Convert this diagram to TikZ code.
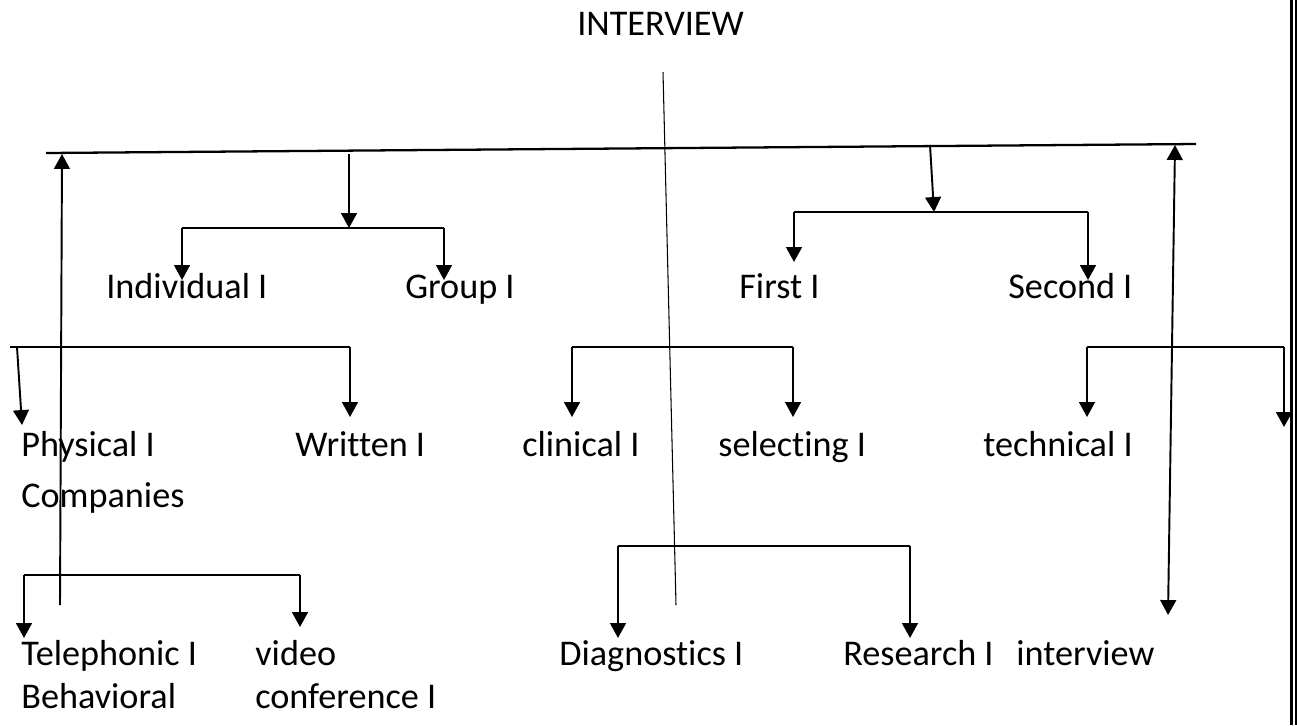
\documentclass[tikz,border=0pt]{standalone}
\usepackage{fontspec}
\setmainfont{Carlito}[Ligatures=CommonOff]
\usetikzlibrary{arrows.meta}

\begin{document}
\begin{tikzpicture}[x=0.02cm,y=-0.02cm,
  txt/.style={anchor=base west,inner sep=0pt,font=\fontsize{20.6}{24}\selectfont},
  arr/.style={-{Triangle[width=9pt,length=8.5pt]},line width=1.1pt},
  dblarr/.style={{Triangle[width=9pt,length=8.5pt]}-{Triangle[width=9pt,length=8.5pt]},line width=1.1pt},
  bar/.style={line width=1.1pt}]
\useasboundingbox (0,0) rectangle (1297,725);
% Title
\node[txt] (title) at (577,35) {INTERVIEW};
% First row of labels
\node[txt] (indiv) at (106,298) {Individual I};
\node[txt] (group) at (405,298) {Group I};
\node[txt] (first) at (739,298) {First I};
\node[txt] (second) at (1008,298) {Second I};
% Second row of labels
\node[txt] (physical) at (21,456) {Physical I};
\node[txt] (companies) at (21,507) {Companies};
\node[txt] (written) at (295,456) {Written I};
\node[txt] (clinical) at (522,456) {clinical I};
\node[txt] (selecting) at (718,456) {selecting I};
\node[txt] (technical) at (983,456) {technical I};
% Third row of labels
\node[txt] (telephonic) at (21,665) {Telephonic I};
\node[txt] (behavioral) at (21,708) {Behavioral};
\node[txt] (video) at (255,665) {video};
\node[txt] (conference) at (255,708) {conference I};
\node[txt] (diagnostics) at (559,665) {Diagnostics I};
\node[txt] (research) at (843,665) {Research I};
\node[txt] (interview) at (1016,665) {interview};
% Main bar and long lines
\coordinate (barL) at (46,153);
\coordinate (barR) at (1196,144);
\coordinate (spineT) at (663,72);
\coordinate (spineB) at (676,605);
\coordinate (riseL) at (60,605);
\coordinate (riseLtop) at (62,154);
\coordinate (riseR) at (1168,615);
\coordinate (riseRtop) at (1175,145);
\draw[line width=1.3pt] (barL) -- (barR);
\draw[line width=0.6pt] (spineT) -- (spineB);
\draw[arr] (riseL) -- (riseLtop);
\draw[dblarr] (riseR) -- (riseRtop);
% Bracket for individual / group
\coordinate (feedA) at (349,154);
\coordinate (brA) at (349,228);
\coordinate (brAl) at (182,228);
\coordinate (brAr) at (444,228);
\draw[arr] (feedA) -- (brA);
\draw[bar] (brAl) -- (brAr);
\draw[arr] (brAl) -- (182,280);
\draw[arr] (brAr) -- (444,280);
% Bracket for first / second
\coordinate (feedB) at (930,145);
\coordinate (brB) at (934,212);
\coordinate (brBl) at (794,212);
\coordinate (brBr) at (1088,212);
\draw[arr] (feedB) -- (brB);
\draw[bar] (brBl) -- (brBr);
\draw[arr] (brBl) -- (794,262);
\draw[arr] (brBr) -- (1088,280);
% Bracket for physical / written
\coordinate (brCl) at (10,347);
\coordinate (brCr) at (350,347);
\draw[bar] (brCl) -- (brCr);
\draw[arr] (17,347) -- (22,425);
\draw[arr] (brCr) -- (350,417);
% Bracket for clinical / selecting
\coordinate (brDl) at (572,347);
\coordinate (brDr) at (793,347);
\draw[bar] (brDl) -- (brDr);
\draw[arr] (brDl) -- (572,417);
\draw[arr] (brDr) -- (793,417);
% Bracket for technical
\coordinate (brEl) at (1087,347);
\coordinate (brEr) at (1284,347);
\draw[bar] (brEl) -- (brEr);
\draw[arr] (brEl) -- (1087,417);
\draw[arr] (brEr) -- (1284,427);
% Bracket for telephonic / video
\coordinate (brFl) at (24,575);
\coordinate (brFr) at (300,575);
\draw[bar] (brFl) -- (brFr);
\draw[arr] (brFl) -- (24,638);
\draw[arr] (brFr) -- (300,627);
% Bracket for diagnostics / research
\coordinate (brGl) at (618,546);
\coordinate (brGr) at (910,546);
\draw[bar] (brGl) -- (brGr);
\draw[arr] (brGl) -- (618,638);
\draw[arr] (brGr) -- (910,638);
% Double rule at right edge
\draw[line width=1.7pt] (1291,0) -- (1291,725);
\draw[line width=1.1pt] (1296,0) -- (1296,725);
\end{tikzpicture}
\end{document}
